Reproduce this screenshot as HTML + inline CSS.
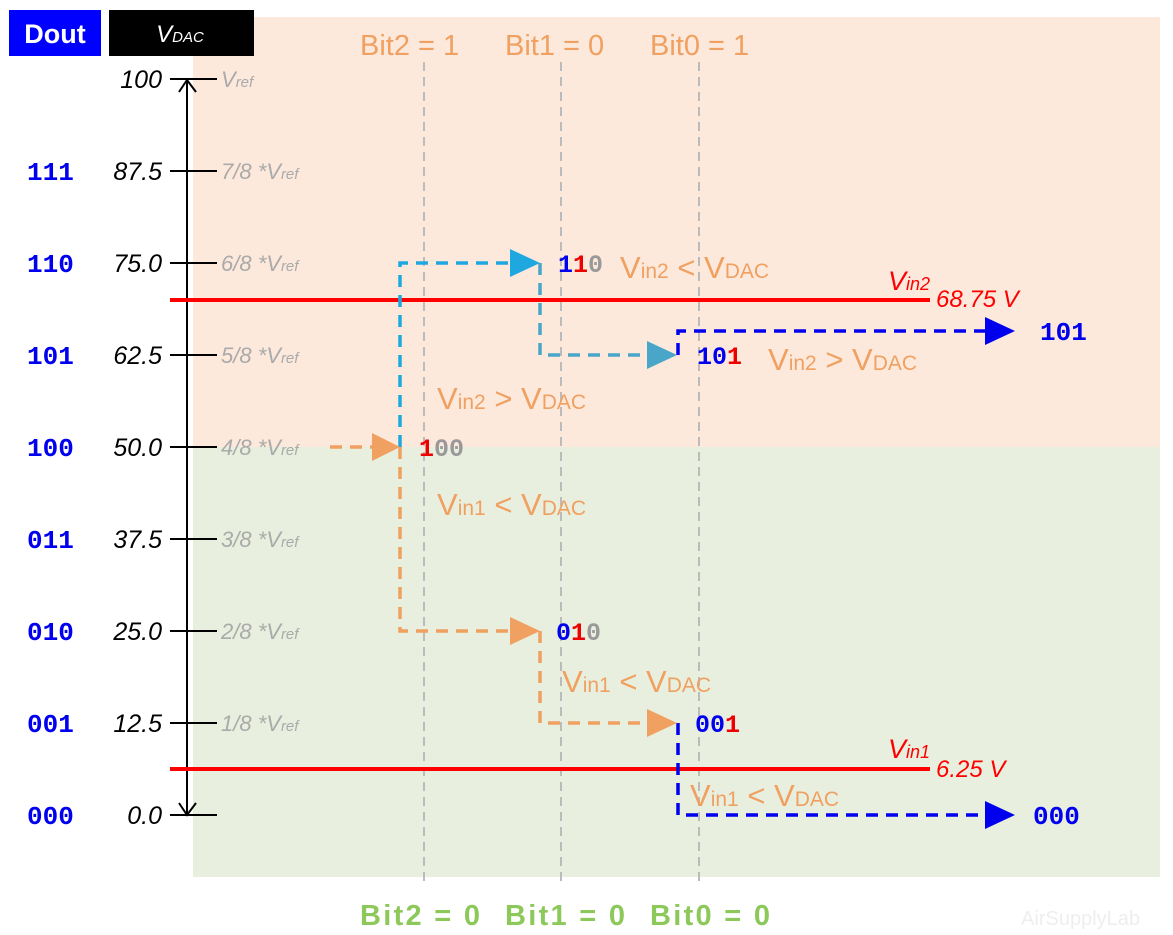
<!DOCTYPE html>
<html><head><meta charset="utf-8"><style>
html,body{margin:0;padding:0;background:#fff;width:1173px;height:935px;overflow:hidden}
svg{display:block}
text{font-family:"Liberation Sans",sans-serif}
.mono text{font-family:"Liberation Mono","DejaVu Sans Mono",monospace;font-weight:bold}
.val{font-style:italic;font-size:25px;fill:#000}
.ref{font-style:italic;font-size:22px;fill:#aaa}
.or{fill:#f0a060;font-size:31px}
</style></head><body>
<svg width="1173" height="935" xmlns="http://www.w3.org/2000/svg">
<rect x="193" y="17" width="967" height="430" fill="#fce9dc"/>
<rect x="193" y="447" width="967" height="430" fill="#e9efde"/>
<rect x="9" y="10" width="92" height="46" fill="#0000ff"/>
<text x="55" y="43" text-anchor="middle" font-size="27" font-weight="bold" fill="#fff">Dout</text>
<rect x="109" y="10" width="145" height="46" fill="#000"/>
<text x="180" y="42" text-anchor="middle" font-size="24" font-style="italic" fill="#fff">V<tspan font-size="15">DAC</tspan></text>
<g stroke="#bbb" stroke-width="2" stroke-dasharray="9,6">
<line x1="424" y1="62" x2="424" y2="882"/><line x1="561" y1="62" x2="561" y2="882"/><line x1="699" y1="62" x2="699" y2="882"/>
</g>
<g fill="#f0a060" font-size="29">
<text x="360" y="55">Bit2 = 1</text><text x="505" y="55">Bit1 = 0</text><text x="650" y="55">Bit0 = 1</text>
</g>
<g fill="#8dc85a" font-size="29" font-weight="bold">
<text x="360" y="925" textLength="120">Bit2 = 0</text><text x="505" y="925" textLength="120">Bit1 = 0</text><text x="650" y="925" textLength="120">Bit0 = 0</text>
</g>
<text x="1140" y="925" text-anchor="end" fill="#eee" font-size="20">AirSupplyLab</text>
<g stroke="#000" stroke-width="2" fill="none">
<line x1="187" y1="79" x2="187" y2="815"/>
<polyline points="179,92 187,80 196,92"/><polyline points="179,803 187,815 196,803"/>
<line x1="170" y1="79" x2="217" y2="79"/><line x1="170" y1="171" x2="217" y2="171"/><line x1="170" y1="263" x2="217" y2="263"/><line x1="170" y1="355" x2="217" y2="355"/><line x1="170" y1="447" x2="217" y2="447"/><line x1="170" y1="539" x2="217" y2="539"/><line x1="170" y1="631" x2="217" y2="631"/><line x1="170" y1="723" x2="217" y2="723"/><line x1="170" y1="815" x2="217" y2="815"/>
</g>
<g class="val" text-anchor="end">
<text x="162" y="88">100</text><text x="162" y="180">87.5</text><text x="162" y="272">75.0</text><text x="162" y="364">62.5</text><text x="162" y="456">50.0</text><text x="162" y="548">37.5</text><text x="162" y="640">25.0</text><text x="162" y="732">12.5</text><text x="162" y="824">0.0</text>
</g>
<g class="ref">
<text x="221" y="87">V<tspan font-size="15">ref</tspan></text>
<text x="221" y="179">7/8 *V<tspan font-size="15">ref</tspan></text>
<text x="221" y="271">6/8 *V<tspan font-size="15">ref</tspan></text>
<text x="221" y="363">5/8 *V<tspan font-size="15">ref</tspan></text>
<text x="221" y="455">4/8 *V<tspan font-size="15">ref</tspan></text>
<text x="221" y="547">3/8 *V<tspan font-size="15">ref</tspan></text>
<text x="221" y="639">2/8 *V<tspan font-size="15">ref</tspan></text>
<text x="221" y="731">1/8 *V<tspan font-size="15">ref</tspan></text>
</g>
<g class="mono" fill="#0000ee" font-size="26">
<text x="27" y="180">111</text><text x="27" y="272">110</text><text x="27" y="364">101</text><text x="27" y="456">100</text><text x="27" y="548">011</text><text x="27" y="640">010</text><text x="27" y="732">001</text><text x="27" y="824">000</text>
<text x="1040" y="340">101</text><text x="1033" y="824">000</text>
</g>
<line x1="170" y1="300" x2="930" y2="300" stroke="#f00" stroke-width="4"/>
<line x1="170" y1="769" x2="930" y2="769" stroke="#f00" stroke-width="4"/>
<g fill="#f00" font-size="27" font-style="italic">
<text x="888" y="290">V<tspan font-size="18">in2</tspan></text><text x="936" y="307" font-size="24">68.75 V</text>
<text x="888" y="758">V<tspan font-size="18">in1</tspan></text><text x="936" y="777" font-size="24">6.25 V</text>
</g>
<g fill="none" stroke-width="3.5" stroke-dasharray="12,8">
<path d="M330 447 H380 M400 447 V631 H515 M540 631 V723 H652" stroke="#f0a060"/>
<path d="M400 447 V263 H515" stroke="#1fa8e0"/>
<path d="M540 263 V355 H652" stroke="#4aa6c8"/>
<path d="M678 355 V331 H988 M678 723 V815 H990" stroke="#0000ee"/>
</g>
<g>
<polygon points="372,433 400,447 372,461" fill="#f0a060"/>
<polygon points="510,617 540,631 510,645" fill="#f0a060"/>
<polygon points="647,709 677,723 647,737" fill="#f0a060"/>
<polygon points="510,249 540,263 510,277" fill="#1fa8e0"/>
<polygon points="647,341 677,355 647,369" fill="#4aa6c8"/>
<polygon points="985,317 1015,331 985,345" fill="#0000ee"/>
<polygon points="985,801 1015,815 985,829" fill="#0000ee"/>
</g>
<g class="mono" font-size="25">
<text x="558" y="272"><tspan fill="#0000ee">1</tspan><tspan fill="#e00">1</tspan><tspan fill="#999">0</tspan></text>
<text x="697" y="364"><tspan fill="#0000ee">10</tspan><tspan fill="#e00">1</tspan></text>
<text x="419" y="456"><tspan fill="#e00">1</tspan><tspan fill="#999">00</tspan></text>
<text x="556" y="640"><tspan fill="#0000ee">0</tspan><tspan fill="#e00">1</tspan><tspan fill="#999">0</tspan></text>
<text x="695" y="732"><tspan fill="#0000ee">00</tspan><tspan fill="#e00">1</tspan></text>
</g>
<g class="or">
<text x="620" y="278">V<tspan font-size="21">in2</tspan> &lt; V<tspan font-size="21">DAC</tspan></text>
<text x="768" y="370">V<tspan font-size="21">in2</tspan> &gt; V<tspan font-size="21">DAC</tspan></text>
<text x="437" y="409">V<tspan font-size="21">in2</tspan> &gt; V<tspan font-size="21">DAC</tspan></text>
<text x="437" y="515">V<tspan font-size="21">in1</tspan> &lt; V<tspan font-size="21">DAC</tspan></text>
<text x="562" y="692">V<tspan font-size="21">in1</tspan> &lt; V<tspan font-size="21">DAC</tspan></text>
<text x="690" y="806">V<tspan font-size="21">in1</tspan> &lt; V<tspan font-size="21">DAC</tspan></text>
</g>
</svg>
</body></html>
